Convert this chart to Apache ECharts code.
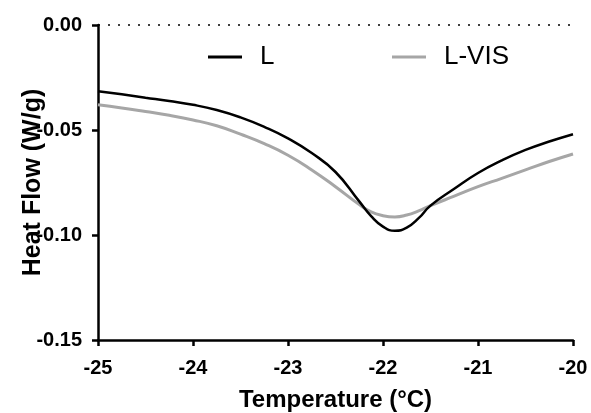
<!DOCTYPE html>
<html lang="en" style="height: 100%">
<head>
<meta charset="utf-8">
<title>Heat Flow vs Temperature</title>
</head>
<body style="height: 100%; margin: 0; background: #fff">
<div id="container" style="width: 591px; height: 413px"></div>

<script type="text/javascript" src="https://cdn.jsdelivr.net/npm/echarts@6/dist/echarts.min.js"></script>

<script type="text/javascript">
var temps = [-25, -24.75, -24.5, -24.25, -24, -23.75, -23.5, -23.25, -23, -22.75, -22.5, -22.25,
             -22.125, -22, -21.875, -21.75, -21.625, -21.5, -21.25, -21, -20.75, -20.5, -20.25, -20];
var flowL = [-0.0315, -0.0330, -0.0346, -0.0362, -0.0380, -0.0405, -0.0440, -0.0485, -0.0540, -0.0610, -0.0700, -0.0840,
             -0.0910, -0.0960, -0.0980, -0.0965, -0.0920, -0.0860, -0.0780, -0.0705, -0.0645, -0.0595, -0.0555, -0.0520];
var flowLVIS = [-0.0380, -0.0395, -0.0412, -0.0430, -0.0452, -0.0480, -0.0520, -0.0565, -0.0620, -0.0690, -0.0770, -0.0855,
                -0.0890, -0.0908, -0.0914, -0.0905, -0.0885, -0.0860, -0.0815, -0.0770, -0.0730, -0.0690, -0.0650, -0.0614];

function pairs(xs, ys) {
    return xs.map(function (x, i) { return [x, ys[i]]; });
}

var dom = document.getElementById('container');
var myChart = echarts.init(dom);
var font = 'Liberation Sans, Arial, sans-serif';

function legendFor(name, left) {
    return {
        data: [name], left: left, top: 39, icon: 'rect', itemWidth: 34, itemHeight: 3,
        textStyle: { fontFamily: font, fontSize: 26, color: '#000', padding: [0, 0, 0, 13] }
    };
}

var option = {
    animation: false,
    grid: { left: 98, right: 18, top: 25, bottom: 73, outerBoundsMode: 'none', containLabel: false },
    legend: [legendFor('L', 203), legendFor('L-VIS', 387)],
    xAxis: {
        type: 'value', min: -25, max: -20, interval: 1,
        name: 'Temperature (°C)', nameLocation: 'middle', nameGap: 48, nameMoveOverlap: false,
        nameTextStyle: { fontFamily: font, fontSize: 24, fontWeight: 'bold', color: '#000' },
        axisLine: { onZero: false, lineStyle: { color: '#000', width: 2.5 } },
        axisTick: { length: 6, lineStyle: { color: '#000', width: 2.5 } },
        axisLabel: { fontFamily: font, fontSize: 20, fontWeight: 'bold', color: '#000', margin: 18 },
        splitLine: { show: false }
    },
    yAxis: {
        type: 'value', min: -0.15, max: 0, interval: 0.05,
        name: 'Heat Flow (W/g)', nameLocation: 'middle', nameGap: 52, nameMoveOverlap: false,
        nameTextStyle: { fontFamily: font, fontSize: 25, fontWeight: 'bold', color: '#000' },
        axisLine: { onZero: false, lineStyle: { color: '#000', width: 2.5 } },
        axisTick: { length: 6, lineStyle: { color: '#000', width: 2.5 } },
        axisLabel: {
            fontFamily: font, fontSize: 20, fontWeight: 'bold', color: '#000', margin: 16,
            formatter: function (v) { return v.toFixed(2); }
        },
        splitLine: { show: false }
    },
    series: [
        {
            name: 'L', type: 'line', smooth: true, symbol: 'none',
            lineStyle: { color: '#000', width: 2.5 }, itemStyle: { color: '#000' },
            data: pairs(temps, flowL),
            markLine: {
                silent: true, symbol: 'none', label: { show: false },
                lineStyle: { color: '#000', type: [2, 8], width: 1.5 },
                data: [{ yAxis: 0 }]
            },
            z: 3
        },
        {
            name: 'L-VIS', type: 'line', smooth: true, symbol: 'none',
            lineStyle: { color: '#a6a6a6', width: 3 }, itemStyle: { color: '#a6a6a6' },
            data: pairs(temps, flowLVIS),
            z: 2
        }
    ]
};

myChart.setOption(option);
window.addEventListener('resize', myChart.resize);
</script>
</body>
</html>
